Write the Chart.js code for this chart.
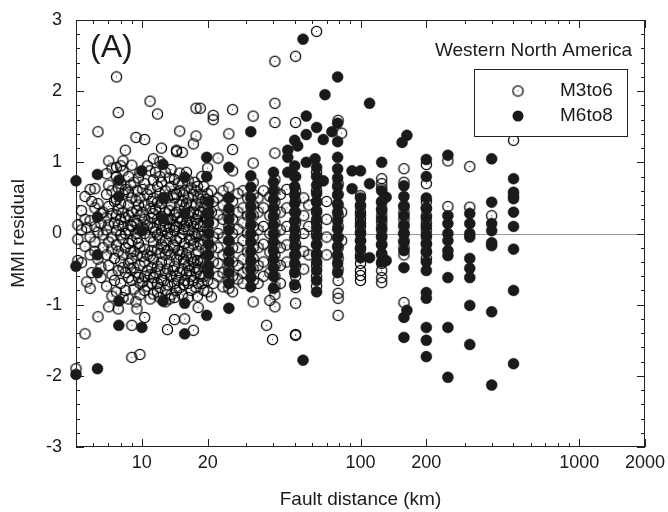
<!DOCTYPE html>
<html lang="en">
<head>
<meta charset="UTF-8">
<title>MMI residual vs fault distance</title>
<script src="https://cdn.jsdelivr.net/npm/chart.js"></script>
<style>
  body { margin: 0; background: #fff; }
</style>
</head>
<body>
<canvas id="grafico" width="668" height="512"></canvas>
<script>
// each row: [fault distance (km), residual, residual, ...]
const m3to6 = [
  [5.0, -1.90],
  [5.1, 0.12, -0.08, -0.38],
  [5.3, -0.41, 0.32, 0.05],
  [5.5, 0.52, 0.2, -0.18, -1.41],
  [5.6, -0.68, 0.08],
  [5.8, 0.62, 0.18, -0.05, -0.3, -0.77],
  [5.9, 0.45, -0.55],
  [6.1, 0.63, 0.36, 0.1, -0.12, -0.25],
  [6.3, 1.43, 0.42, 0.02, -0.36, -1.17],
  [6.5, 0.28, 0.14, -0.47, -0.62],
  [6.65, 0.30, -0.02, -0.2],
  [6.9, 0.84, 0.55, 0.22, 0.05, -0.3, -0.74],
  [7.06, 1.02, 0.68, 0.38, 0.12, -0.12, -0.45, -1.03],
  [7.3, 0.92, 0.6, 0.28, -0.05, -0.22, -0.58, -0.88],
  [7.5, 0.45, 0.15, -0.35, -0.66],
  [7.66, 2.20, 0.93, 0.8, 0.48, 0.26, 0.04, -0.16, -0.82],
  [7.8, 1.70, 0.64, 0.34, 0.12, -0.25, -0.52, -1.06],
  [8.0, 0.95, 0.7, 0.42, 0.2, -0.02, -0.4, -0.7],
  [8.2, 1.02, 0.88, 0.55, 0.3, 0.1, -0.08, -0.3, -0.48, -0.9],
  [8.4, 1.17, 0.62, 0.22, 0.0, -0.2, -0.55, -0.8],
  [8.7, 0.8, 0.58, 0.4, 0.25, 0.05, -0.14, -0.42, -0.62, -0.92],
  [8.9, 0.68, 0.12, -0.26, -0.5],
  [9.0, 0.96, 0.5, 0.3, 0.1, -0.1, -0.35, -0.66, -1.29, -1.74],
  [9.2, 0.72, 0.18, -0.25, -0.48, -0.78],
  [9.4, 1.35, 0.46, 0.0, -0.55, -0.96],
  [9.5, 0.6, 0.32, 0.14, -0.06, -0.3, -1.06],
  [9.65, 0.78, 0.4, -0.14, -0.62],
  [9.8, 0.86, 0.5, 0.25, 0.05, -0.2, -0.45, -0.7, -0.86, -1.70],
  [10.1, 0.62, 0.3, 0.08, -0.32, -0.68],
  [10.3, 1.32, 0.7, 0.4, 0.2, 0.0, -0.22, -0.4, -0.6, -0.8, -1.18],
  [10.6, 0.95, 0.55, 0.12, -0.3, -0.52, -0.74],
  [10.9, 1.86, 0.88, 0.62, 0.35, 0.15, -0.05, -0.32, -0.58, -0.92],
  [11.1, 0.45, 0.22, -0.24, -0.48, -0.7],
  [11.3, 1.05, 0.75, 0.5, 0.28, 0.08, -0.12, -0.36, -0.62, -0.85],
  [11.55, 0.86, 0.34, 0.02, -0.55],
  [11.8, 1.68, 0.66, 0.44, 0.2, -0.02, -0.22, -0.46, -0.7, -0.82],
  [12.1, 1.01, 0.8, 0.56, 0.36, 0.14, -0.06, -0.28, -0.5, -0.76, -0.9],
  [12.3, 1.20, 0.72, 0.42, 0.24, 0.04, -0.16, -0.4, -0.65],
  [12.6, 0.5, 0.18, -0.2, -0.66],
  [12.8, 0.86, 0.6, 0.3, 0.1, -0.1, -0.3, -0.56, -0.8, -0.96],
  [13.1, 0.5, 0.2, 0.0, -0.24, -0.5, -0.72, -1.35],
  [13.35, 0.78, 0.32, 0.08, -0.4, -0.92],
  [13.6, 0.9, 0.66, 0.4, 0.2, -0.04, -0.3, -0.6, -0.86],
  [13.9, 0.55, 0.12, -0.16, -0.52],
  [14.1, 0.76, 0.5, 0.26, 0.04, -0.2, -0.46, -0.7, -0.9, -1.21],
  [14.4, 1.17, 1.15, 0.55, 0.3, 0.1, -0.1, -0.36, -0.6, -0.8],
  [14.65, 0.7, 0.22, -0.24, -0.66],
  [14.9, 1.44, 0.85, 0.6, 0.4, 0.16, -0.06, -0.3, -0.55, -0.76],
  [15.3, 1.14, 0.7, 0.45, 0.2, 0.0, -0.25, -0.5, -0.86],
  [15.5, 0.54, 0.06, -0.36, -0.72],
  [15.7, 0.6, 0.36, 0.1, -0.14, -0.4, -0.66, -1.20],
  [16.0, 0.86, 0.42, 0.15, -0.3, -0.56],
  [16.3, 0.74, 0.5, 0.25, 0.05, -0.2, -0.45, -0.7, -0.9],
  [16.55, 0.3, -0.08, -0.52],
  [16.8, 0.64, 0.4, 0.15, -0.1, -0.36, -0.6, -0.8],
  [17.2, 1.26, 0.55, 0.3, 0.1, -0.15, -0.4, -0.66, -1.36],
  [17.45, 0.72, 0.0, -0.48],
  [17.7, 1.76, 1.37, 0.6, 0.4, 0.2, -0.05, -0.3, -0.55, -0.76],
  [17.95, 0.66, 0.14, -0.38, -0.88],
  [18.1, 0.5, 0.26, 0.0, -0.25, -0.5, -0.7, -1.04],
  [18.5, 1.76, 0.55, 0.3, 0.1, -0.15, -0.4, -0.6],
  [18.8, 0.8, 0.44, -0.02, -0.7],
  [19.2, 0.66, 0.36, 0.16, -0.1, -0.36, -0.6, -0.8],
  [19.6, 0.48, 0.24, -0.22, -0.46],
  [20.0, 0.92, 0.56, 0.4, 0.2, 0.05, -0.1, -0.3, -0.5, -0.66, -0.82],
  [20.8, 0.6, 0.3, -0.2, -0.89],
  [21.2, 1.66, 1.60, 0.45, 0.15, -0.05, -0.4, -0.7],
  [22.3, 1.06, 0.5, 0.26, 0.0, -0.2, -0.42, -0.6],
  [23.5, 0.6, 0.4, 0.2, -0.06, -0.3, -0.55, -0.75],
  [25.0, 1.40, 0.65, 0.5, 0.3, 0.1, -0.1, -0.3, -0.5, -0.66, -0.77],
  [26.0, 1.74, 1.18, 0.88, 0.45, 0.2, 0.0, -0.2, -0.4, -0.6, -0.82],
  [27.5, 0.56, 0.3, 0.06, -0.2, -0.45, -0.64],
  [29.0, 0.6, 0.36, 0.15, -0.1, -0.36, -0.55, -0.7],
  [30.5, 0.5, 0.25, 0.0, -0.26, -0.5],
  [32.3, 1.65, 0.99, 0.72, 0.55, 0.4, 0.25, 0.1, -0.05, -0.2, -0.35, -0.5, -0.66, -0.96],
  [34.0, 0.5, 0.3, 0.05, -0.2, -0.45, -0.7],
  [36.0, 0.6, 0.36, 0.1, -0.15, -0.4, -0.6],
  [37.2, -1.29],
  [38.5, 0.52, 0.25, 0.0, -0.26, -0.55, -0.94],
  [39.6, -1.49],
  [40.6, 2.42, 1.83, 1.56, 1.13, 0.76, 0.6, 0.45, 0.3, 0.15, 0.0, -0.15, -0.3, -0.45, -0.6, -0.75, -0.86, -1.03],
  [43.0, 0.55, 0.3, 0.05, -0.2, -0.45, -0.7],
  [46.0, 0.62, 0.36, 0.1, -0.16, -0.4],
  [50.5, 2.49, 1.56, 0.8, 0.6, 0.46, 0.3, 0.15, 0.0, -0.15, -0.3, -0.46, -0.6, -0.76, -0.98, -1.42, -1.43],
  [55.0, 0.5, 0.25, 0.0, -0.25, -0.5],
  [58.0, 0.4, 0.1, -0.3],
  [63.0, 2.84, 0.86, 0.6, 0.45, 0.3, 0.15, 0.0, -0.15, -0.3, -0.45, -0.6, -0.74],
  [70.0, 0.45, 0.2, -0.05, -0.3],
  [79.0, 1.59, 0.7, 0.55, 0.4, 0.25, 0.1, -0.05, -0.2, -0.35, -0.5, -0.66, -0.84, -0.91, -1.15],
  [82.0, 1.41, 0.3, -0.1],
  [100, 0.53, 0.4, 0.3, 0.2, 0.1, 0.0, -0.1, -0.2, -0.3, -0.42, -0.52, -0.59, -0.66],
  [125, 0.77, 0.70, 0.63, 0.44, 0.35, 0.25, 0.15, 0.05, -0.05, -0.15, -0.3, -0.42, -0.52, -0.62, -0.69],
  [158, 0.91, 0.72, 0.39, 0.3, 0.2, 0.1, 0.0, -0.1, -0.2, -0.3, -0.97],
  [200, 0.97, 0.70, 0.45, 0.35, 0.25, 0.15, 0.05, -0.05, -0.15, -0.25, -0.35],
  [251, 1.02, 0.38],
  [316, 0.94, 0.37],
  [398, 0.25],
  [501, 1.31]
];

const m6to8 = [
  [5.0, 0.74, -0.46, -1.98],
  [6.27, 0.83, 0.23, -0.30, -0.55, -1.90],
  [7.85, 0.75, 0.52, -0.95, -1.29],
  [10.0, 0.88, 0.04, -1.32],
  [12.5, 0.97, 0.50, 0.21, -0.95],
  [15.7, 0.79, 0.28, -0.98, -1.41],
  [19.8, 1.07, 0.80, 0.28, -1.15],
  [20.2, 0.45, 0.3, 0.15, 0.0, -0.15, -0.3, -0.45, -0.56],
  [25.0, 0.93, 0.5, 0.35, 0.2, 0.05, -0.1, -0.25, -0.4, -0.55, -0.70, -1.05],
  [31.5, 1.43, 0.81, 0.65, 0.5, 0.38, 0.25, 0.12, 0.0, -0.12, -0.25, -0.38, -0.5, -0.62, -0.75],
  [40.0, 0.86, 0.72, 0.6, 0.48, 0.36, 0.24, 0.12, 0.0, -0.12, -0.24, -0.36, -0.48, -0.6, -0.77],
  [46.5, 1.17, 1.07, 0.86],
  [50.0, 1.31, 0.95, 0.8, 0.66, 0.54, 0.42, 0.3, 0.18, 0.06, -0.06, -0.18, -0.3, -0.42, -0.55, -0.72],
  [51.6, 1.23],
  [54.6, 2.73, -1.78],
  [56.5, 1.65, 1.39, 1.0],
  [62.0, 1.05],
  [63.0, 1.49, 0.93, 0.8, 0.68, 0.56, 0.44, 0.32, 0.2, 0.08, -0.04, -0.16, -0.28, -0.4, -0.52, -0.66, -0.82],
  [67.6, 1.32, 0.74],
  [68.8, 1.95],
  [74.0, 1.43],
  [78.6, 2.20, 1.55, 1.29, 1.07, 0.91, 0.78, 0.66, 0.54, 0.42, 0.3, 0.18, 0.06, -0.06, -0.18, -0.3, -0.42, -0.55],
  [91.5, 0.88, 0.63],
  [100, 0.88, 0.5, 0.38, 0.26, 0.14, 0.02, -0.1, -0.22, -0.34],
  [110, 1.83, 0.70, -0.34],
  [125, 1.0, 0.6, 0.45, 0.32, 0.2, 0.08, -0.04, -0.16, -0.28, -0.4],
  [131, 0.51, -0.38],
  [155, 1.28],
  [158, 0.67, 0.52, 0.38, 0.25, 0.12, 0.0, -0.12, -0.24, -0.48, -1.18, -1.46],
  [163, 1.38, -1.08],
  [200, 1.04, 0.80, 0.5, 0.36, 0.22, 0.1, -0.02, -0.14, -0.26, -0.4, -0.52, -0.83, -0.91, -1.32, -1.50, -1.73],
  [251, 1.10, 0.25, 0.14, 0.0, -0.10, -0.24, -0.31, -0.62, -1.32, -2.02],
  [316, 0.28, 0.14, 0.0, -0.05, -0.35, -0.49, -0.62, -1.01, -1.56],
  [398, 1.05, 0.44, 0.14, 0.04, -0.13, -0.17, -1.10, -2.13],
  [501, 0.77, 0.58, 0.53, 0.49, 0.30, 0.10, -0.22, -0.80, -1.83]
];

const xLabels = [10, 20, 100, 200, 1000, 2000];
const xMinor = [6, 7, 8, 9, 30, 40, 50, 60, 70, 80, 90, 300, 400, 500, 600, 700, 800, 900];
const yLabels = [-3, -2, -1, 0, 1, 2, 3];

function pontos(rows) {
  const out = [];
  rows.forEach(r => r.slice(1).forEach(v => out.push({ x: r[0], y: v })));
  return out;
}

// open circle with the little centre dot
function anel() {
  const c = document.createElement('canvas');
  c.width = 13; c.height = 13;
  const g = c.getContext('2d');
  g.strokeStyle = '#000';
  g.lineWidth = 1.25;
  g.beginPath();
  g.arc(6.5, 6.5, 5.1, 0, Math.PI * 2);
  g.stroke();
  g.fillStyle = '#333';
  g.fillRect(6, 6, 1, 1);
  return c;
}
const ring = anel();

const FONTE = '"Liberation Sans", Arial, sans-serif';
Chart.defaults.font.family = FONTE;
Chart.defaults.color = '#1a1a1a';

// frame, inward ticks, zero line, labels and boxed legend
const moldura = {
  id: 'moldura',
  beforeDatasetsDraw(chart) {
    const { ctx, scales: { x, y } } = chart;
    // plot box taken from the scales themselves
    const L = Math.round(x.getPixelForValue(5));
    const R = Math.round(x.getPixelForValue(2000));
    const T = Math.round(y.getPixelForValue(3));
    const B = Math.round(y.getPixelForValue(-3));
    ctx.save();
    ctx.strokeStyle = '#9a9a9a';
    ctx.lineWidth = 1;
    const y0 = Math.round(y.getPixelForValue(0)) + 0.5;
    ctx.beginPath(); ctx.moveTo(L, y0); ctx.lineTo(R, y0); ctx.stroke();

    ctx.strokeStyle = '#222';
    ctx.strokeRect(L + 0.5, T + 0.5, R - L - 1, B - T - 1);
    ctx.beginPath();
    const xt = xLabels.map(v => [v, 8]).concat(xMinor.map(v => [v, 4]));
    xt.forEach(([v, len]) => {
      const px = Math.round(x.getPixelForValue(v)) + 0.5;
      ctx.moveTo(px, B); ctx.lineTo(px, B - len);
      ctx.moveTo(px, T); ctx.lineTo(px, T + len);
    });
    for (let k = -15; k <= 15; k++) {
      const len = k % 5 === 0 ? 8 : 4;
      const py = Math.round(y.getPixelForValue(k / 5)) + 0.5;
      ctx.moveTo(L, py); ctx.lineTo(L + len, py);
      ctx.moveTo(R, py); ctx.lineTo(R - len, py);
    }
    ctx.stroke();
    ctx.restore();
  },
  afterDatasetsDraw(chart) {
    const { ctx } = chart;
    ctx.save();
    ctx.fillStyle = '#1a1a1a';
    ctx.textBaseline = 'alphabetic';
    ctx.font = '32px ' + FONTE;
    ctx.textAlign = 'left';
    ctx.fillText('(A)', 90, 57);
    ctx.font = '19px ' + FONTE;
    ctx.textAlign = 'right';
    ctx.fillText('Western North America', 632, 56);

    // legend box
    ctx.fillStyle = '#fff';
    ctx.fillRect(474, 69, 154, 68);
    ctx.strokeStyle = '#222';
    ctx.lineWidth = 1;
    ctx.strokeRect(474.5, 69.5, 153, 67);
    ctx.drawImage(ring, 518 - 6.5, 91 - 6.5);
    ctx.fillStyle = '#1a1a1a';
    ctx.beginPath(); ctx.arc(518, 116, 5.5, 0, Math.PI * 2); ctx.fill();
    ctx.textAlign = 'left';
    ctx.textBaseline = 'middle';
    ctx.fillText(chart.data.datasets[0].label, 560, 91);
    ctx.fillText(chart.data.datasets[1].label, 560, 116);
    ctx.restore();
  }
};

new Chart(document.getElementById('grafico'), {
  type: 'scatter',
  data: {
    datasets: [
      {
        label: 'M3to6',
        data: pontos(m3to6),
        pointStyle: ring,
        order: 2,
        clip: false
      },
      {
        label: 'M6to8',
        data: pontos(m6to8),
        pointStyle: 'circle',
        pointRadius: 5.5,
        backgroundColor: '#1a1a1a',
        borderColor: '#1a1a1a',
        borderWidth: 0.5,
        order: 1,
        clip: false
      }
    ]
  },
  options: {
    responsive: false,
    animation: false,
    layout: { autoPadding: false, padding: { top: 20, right: 23, bottom: 0, left: 0 } },
    plugins: { legend: { display: false }, tooltip: { enabled: false } },
    scales: {
      x: {
        type: 'logarithmic',
        min: 5,
        max: 2000,
        afterBuildTicks: s => { s.ticks = xLabels.map(v => ({ value: v })); },
        afterFit: s => { s.height = 65; s.paddingLeft = 0; s.paddingRight = 0; },
        grid: { display: false, drawTicks: false },
        border: { display: false },
        ticks: {
          autoSkip: false,
          maxRotation: 0,
          padding: 5,
          font: { size: 18 },
          callback: v => String(v)
        },
        title: {
          display: true,
          text: 'Fault distance (km)',
          font: { size: 19 },
          padding: { top: 0, bottom: 1 }
        }
      },
      y: {
        min: -3,
        max: 3,
        afterBuildTicks: s => { s.ticks = yLabels.map(v => ({ value: v })); },
        afterFit: s => { s.width = 76; s.paddingTop = 0; s.paddingBottom = 0; },
        grid: { display: false, drawTicks: false },
        border: { display: false },
        ticks: {
          padding: 14,
          font: { size: 18 },
          callback: v => String(v)
        },
        title: {
          display: true,
          text: 'MMI residual',
          font: { size: 19 },
          padding: { top: 7, bottom: 0 }
        }
      }
    }
  },
  plugins: [moldura]
});
</script>
</body>
</html>
